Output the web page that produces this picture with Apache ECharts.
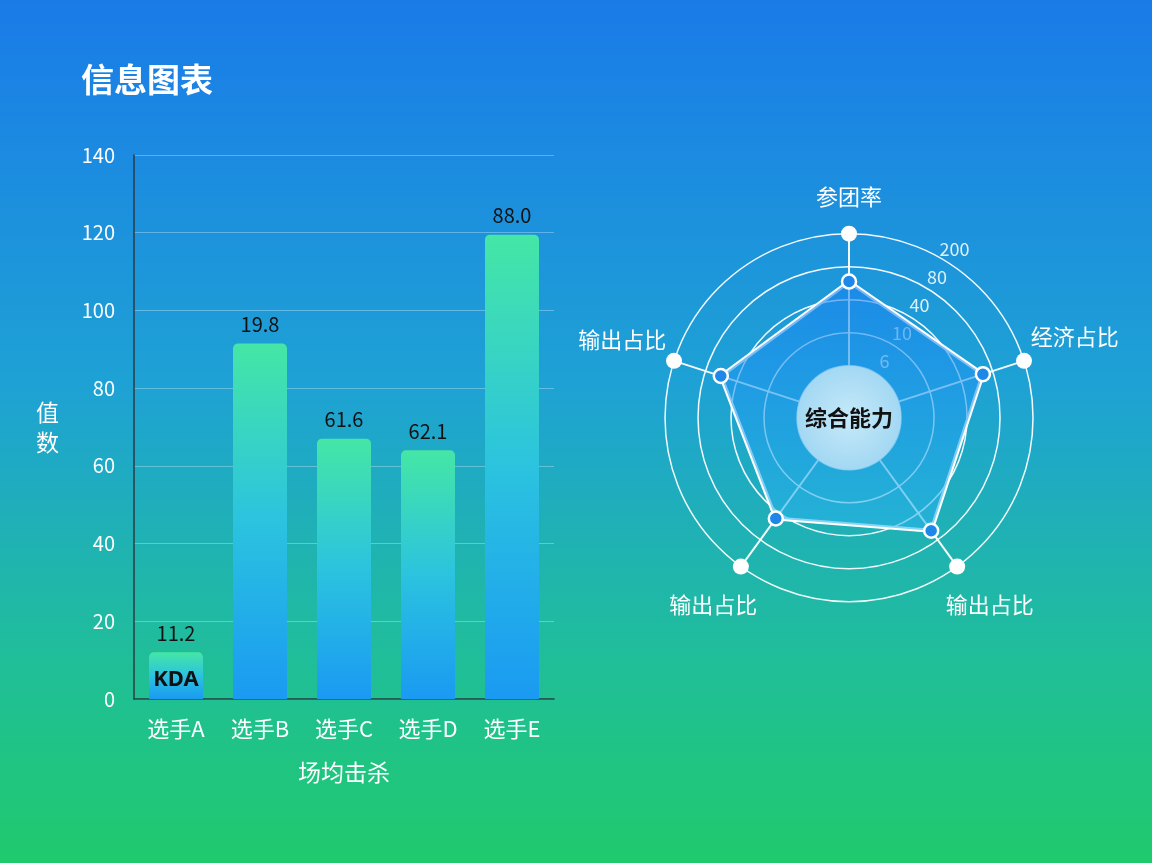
<!DOCTYPE html>
<html><head><meta charset="utf-8">
<script src="https://cdn.jsdelivr.net/npm/echarts@6/dist/echarts.min.js"></script>
<style>html,body{margin:0;padding:0;}#c{width:1152px;height:863px;}</style>
</head><body><div id="c"></div>
<script>
const categories = ['选手A', '选手B', '选手C', '选手D', '选手E'];
const barValues = [12, 91.5, 67, 64, 119.5];
const barLabels = ['11.2', '19.8', '61.6', '62.1', '88.0'];
const insideLabels = ['KDA', '', '', '', ''];
const yTicks = { min: 0, max: 140, interval: 20 };
const radarNames = ['参团率', '输出占比', '输出占比', '输出占比', '经济占比'];
const radarValues = [2.55, 2.51, 2.2, 2.66, 2.69];
const radarMax = [4, 4, 4, 4, 4];
const radialLabels = ['6', '10', '40', '80', '200'];
const centerName = '综合能力';

const FONT = 'Noto Sans CJK SC';
const nameStyleKeys = ['t', 'l', 'bl', 'br', 'r'];
const chart = echarts.init(document.getElementById('c'));
const barGrad = new echarts.graphic.LinearGradient(0, 0, 0, 1, [
  { offset: 0, color: '#45e6a6' }, { offset: 0.5, color: '#2bc3df' }, { offset: 1, color: '#1a9af2' }
]);
const nameBase = { color: '#fff', fontSize: 22, fontFamily: FONT };
chart.setOption({
  backgroundColor: new echarts.graphic.LinearGradient(0, 0, 0, 1, [
    { offset: 0, color: '#1a7be8' }, { offset: 0.45, color: '#1ea2d4' },
    { offset: 0.75, color: '#20bd9c' }, { offset: 1, color: '#1fca6c' }
  ]),
  textStyle: { fontFamily: FONT },
  title: { text: '信息图表', left: 76, top: 58, textStyle: { color: '#fff', fontSize: 33, fontWeight: 'bold', fontFamily: FONT } },
  grid: { left: 134, right: 598, top: 155, bottom: 164 },
  xAxis: {
    type: 'category', data: categories,
    axisLine: { lineStyle: { color: '#2a3b45', width: 1.5 } },
    axisTick: { show: false },
    axisLabel: { color: '#fff', fontSize: 22, margin: 19 },
    name: '场均击杀', nameLocation: 'middle', nameGap: 62,
    nameTextStyle: { color: '#fff', fontSize: 23 }
  },
  yAxis: {
    type: 'value', min: yTicks.min, max: yTicks.max, interval: yTicks.interval,
    axisLine: { show: true, lineStyle: { color: '#2a3b45', width: 1.5 } },
    axisLabel: { color: '#fff', fontSize: 20, margin: 19 },
    splitLine: { lineStyle: { color: 'rgba(255,255,255,0.3)' } },
    name: '值\n数', nameLocation: 'middle', nameRotate: 0, nameGap: 75,
    nameTextStyle: { color: '#fff', fontSize: 23, lineHeight: 30 }
  },
  radar: {
    center: ['73.7%', '48.4%'], radius: [52, 184], splitNumber: 4, shape: 'circle',
    indicator: radarNames.map((n, i) => ({ name: n, min: 0, max: radarMax[i], styleKey: nameStyleKeys[i] })),
    axisName: {
      color: '#fff', fontSize: 22, align: 'center', verticalAlign: 'middle',
      formatter: (name, ind) => '{' + ind.styleKey + '|' + name + '}',
      rich: {
        t: Object.assign({ padding: [20, 0, 0, 0] }, nameBase),
        l: Object.assign({ padding: [0, 14, 14, 0] }, nameBase),
        bl: Object.assign({ padding: [0, 0, 0, 0] }, nameBase),
        br: Object.assign({ padding: [0, 0, 0, 10] }, nameBase),
        r: Object.assign({ padding: [0, 0, 20, 12] }, nameBase)
      }
    },
    nameGap: 47,
    axisLine: { lineStyle: { color: 'rgba(255,255,255,0.95)', width: 2 } },
    splitLine: { lineStyle: { color: 'rgba(255,255,255,0.95)', width: 1.5 } },
    splitArea: { show: false },
    axisLabel: { show: false }
  },
  polar: { center: ['73.7%', '48.4%'], radius: [67, 199] },
  angleAxis: { type: 'value', startAngle: 58, show: false, axisLine: { show: false }, splitLine: { show: false } },
  radiusAxis: {
    type: 'value', min: 0, max: 4, interval: 1, z: 1,
    axisLine: { show: false }, axisTick: { show: false }, splitLine: { show: false },
    axisLabel: { color: 'rgba(255,255,255,0.85)', fontSize: 18, margin: 0, align: 'center', verticalAlign: 'middle',
      formatter: (v) => radialLabels[Math.round(v)] }
  },
  series: [
    {
      type: 'bar', data: barValues, barWidth: 54,
      itemStyle: { color: barGrad, borderRadius: [5, 5, 0, 0] },
      label: { show: true, position: 'top', distance: 9, color: '#111', fontSize: 20,
        formatter: (p) => barLabels[p.dataIndex] }
    },
    {
      type: 'bar', data: barValues, barWidth: 54, barGap: '-100%', z: 3,
      itemStyle: { color: 'rgba(0,0,0,0)' },
      label: { show: true, position: 'insideBottom', distance: 8, color: '#111', fontSize: 22, fontWeight: 'bold',
        fontFamily: 'Noto Sans', formatter: (p) => insideLabels[p.dataIndex] }
    },
    {
      type: 'radar', z: 2, symbol: 'circle', symbolSize: 16,
      lineStyle: { width: 0, opacity: 0 },
      itemStyle: { color: '#fff' },
      data: [{ value: radarMax }]
    },
    {
      type: 'radar', z: 3, symbol: 'circle', symbolSize: 14,
      lineStyle: { color: '#fff', width: 4 },
      itemStyle: { color: '#1e88e8', borderColor: '#fff', borderWidth: 2.5 },
      areaStyle: { color: new echarts.graphic.LinearGradient(0, 0, 0, 1, [
        { offset: 0, color: 'rgba(26,130,240,0.85)' }, { offset: 1, color: 'rgba(40,180,236,0.8)' }
      ]) },
      data: [{ value: radarValues }]
    },
    {
      type: 'pie', silent: true, z: 5, center: ['73.7%', '48.4%'], radius: [0, 52],
      itemStyle: { color: new echarts.graphic.RadialGradient(0.5, 0.5, 0.5, [
        { offset: 0, color: '#c6e9f9' }, { offset: 1, color: '#a3d8f3' }
      ]) },
      label: { show: true, position: 'center', color: '#111', fontSize: 22, fontWeight: 'bold', formatter: centerName },
      labelLine: { show: false },
      data: [{ value: 1, name: centerName }]
    }
  ]
});
</script></body></html>
